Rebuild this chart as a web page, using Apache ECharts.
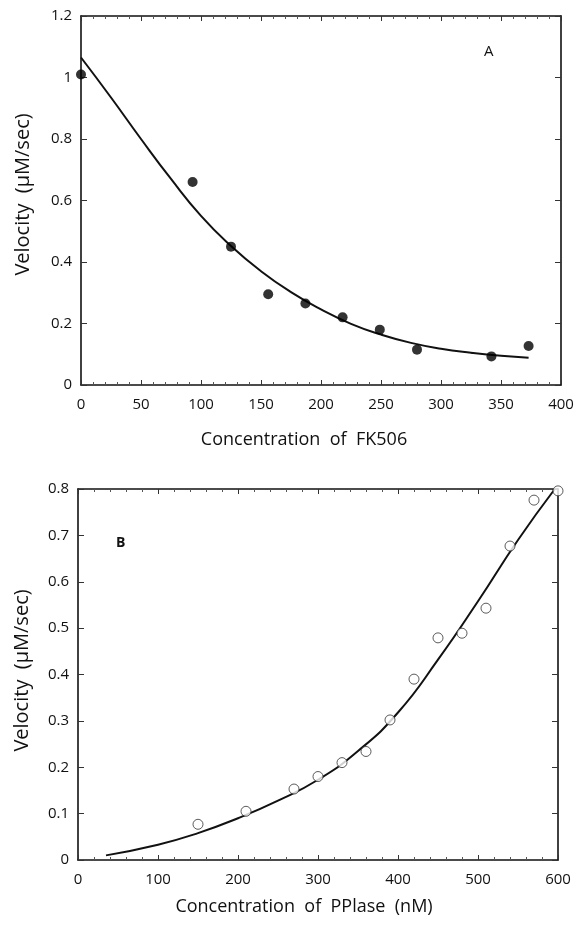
<!DOCTYPE html>
<html>
<head>
<meta charset="utf-8">
<script src="https://cdn.jsdelivr.net/npm/echarts@6/dist/echarts.min.js"></script>
<style>html,body{margin:0;padding:0;background:#fff}#c{width:577px;height:925px}</style>
</head>
<body>
<div id="c"></div>
<script>
// Panel A: FK506 inhibition
const fkConc = [0, 93, 125, 156, 187, 218, 249, 280, 342, 373];
const fkVel  = [1.01, 0.66, 0.45, 0.295, 0.265, 0.22, 0.18, 0.115, 0.093, 0.127];
const fkFitX = [0, 25, 50, 75, 100, 125, 150, 175, 200, 225, 250, 275, 300, 325, 350, 373];
const fkFitY = [1.065, 0.935, 0.8, 0.67, 0.55, 0.452, 0.37, 0.302, 0.246, 0.199, 0.164, 0.137, 0.118, 0.105, 0.095, 0.089];
const fkXTicks = [0, 50, 100, 150, 200, 250, 300, 350, 400];
const fkYTicks = [0, 0.2, 0.4, 0.6, 0.8, 1, 1.2];

// Panel B: PPIase dependence
const ppConc = [150, 210, 270, 300, 330, 360, 390, 420, 450, 480, 510, 540, 570, 600];
const ppVel  = [0.077, 0.105, 0.153, 0.18, 0.21, 0.234, 0.302, 0.39, 0.479, 0.489, 0.543, 0.677, 0.776, 0.796];
const ppFitX = [35, 100, 150, 200, 250, 300, 350, 400, 450, 500, 550, 596];
const ppFitY = [0.01, 0.033, 0.058, 0.09, 0.128, 0.173, 0.235, 0.318, 0.432, 0.558, 0.69, 0.8];
const ppXTicks = [0, 100, 200, 300, 400, 500, 600];
const ppYTicks = [0, 0.1, 0.2, 0.3, 0.4, 0.5, 0.6, 0.7, 0.8];

const FONT = '"Open Sans", "DejaVu Sans", sans-serif';

function xAx(grid, ticks, pos, showLabel) {
  return {
    type: 'value', gridIndex: grid, position: pos,
    min: ticks[0], max: ticks[ticks.length - 1], interval: ticks[1] - ticks[0],
    axisLine: {show: true, onZero: false, lineStyle: {color: '#111', width: 1.6}},
    axisTick: {show: true, inside: true, length: 5, lineStyle: {color: '#333', width: 1}},
    minorTick: {show: true, splitNumber: 5, length: 3, lineStyle: {color: '#555', width: 1}},
    axisLabel: {show: showLabel, color: '#111', fontFamily: FONT, fontSize: 15, margin: 12},
    splitLine: {show: false}
  };
}
function yAx(grid, ticks, pos, showLabel) {
  return {
    type: 'value', gridIndex: grid, position: pos,
    min: ticks[0], max: ticks[ticks.length - 1], interval: +(ticks[1] - ticks[0]).toFixed(2),
    axisLine: {show: true, onZero: false, lineStyle: {color: '#111', width: 1.6}},
    axisTick: {show: true, inside: true, length: 6, lineStyle: {color: '#333', width: 1}},
    axisLabel: {show: showLabel, color: '#111', fontFamily: FONT, fontSize: 15, margin: 9},
    splitLine: {show: false}
  };
}

const chart = echarts.init(document.getElementById('c'), null, {renderer: 'canvas'});
chart.setOption({
  backgroundColor: '#fff',
  animation: false,
  grid: [
    {left: 81, top: 16, width: 480, height: 369},
    {left: 78, top: 489, width: 480, height: 371}
  ],
  xAxis: [
    Object.assign(xAx(0, fkXTicks, 'bottom', true), {
      name: 'Concentration  of  FK506', nameLocation: 'middle', nameGap: 46,
      nameTextStyle: {color: '#111', fontFamily: FONT, fontSize: 18, padding: [0, 34, 0, 0]}
    }),
    xAx(0, fkXTicks, 'top', false),
    Object.assign(xAx(1, ppXTicks, 'bottom', true), {
      name: 'Concentration  of  PPlase  (nM)', nameLocation: 'middle', nameGap: 38,
      nameTextStyle: {color: '#111', fontFamily: FONT, fontSize: 18, padding: [0, 28, 0, 0]}
    }),
    xAx(1, ppXTicks, 'top', false)
  ],
  yAxis: [
    Object.assign(yAx(0, fkYTicks, 'left', true), {
      name: 'Velocity  (μM/sec)', nameLocation: 'middle', nameGap: 48,
      nameTextStyle: {color: '#111', fontFamily: FONT, fontSize: 20, padding: [0, 0, 0, 12]}
    }),
    yAx(0, fkYTicks, 'right', false),
    Object.assign(yAx(1, ppYTicks, 'left', true), {
      name: 'Velocity  (μM/sec)', nameLocation: 'middle', nameGap: 46,
      nameTextStyle: {color: '#111', fontFamily: FONT, fontSize: 20, padding: [0, 0, 0, 8]}
    }),
    yAx(1, ppYTicks, 'right', false)
  ],
  graphic: [
    {type: 'text', left: 484, top: 44, style: {text: 'A', font: '15px ' + FONT, fill: '#111'}},
    {type: 'text', left: 116, top: 536, style: {text: 'B', font: 'bold 14px ' + FONT, fill: '#111'}}
  ],
  series: [
    {type: 'line', xAxisIndex: 0, yAxisIndex: 0, data: fkFitX.map((x, i) => [x, fkFitY[i]]),
     smooth: 0.5, showSymbol: false, lineStyle: {color: '#111', width: 2}, z: 2},
    {type: 'scatter', xAxisIndex: 0, yAxisIndex: 0, data: fkConc.map((x, i) => [x, fkVel[i]]),
     symbol: 'circle', symbolSize: 10, itemStyle: {color: '#000'}, clip: false, z: 3},
    {type: 'line', xAxisIndex: 2, yAxisIndex: 2, data: ppFitX.map((x, i) => [x, ppFitY[i]]),
     smooth: 0.5, showSymbol: false, lineStyle: {color: '#111', width: 2}, z: 2},
    {type: 'scatter', xAxisIndex: 2, yAxisIndex: 2, data: ppConc.map((x, i) => [x, ppVel[i]]),
     symbol: 'circle', symbolSize: 10, itemStyle: {color: '#fff', borderColor: '#333', borderWidth: 1}, clip: false, z: 3}
  ]
});
</script>
</body>
</html>
